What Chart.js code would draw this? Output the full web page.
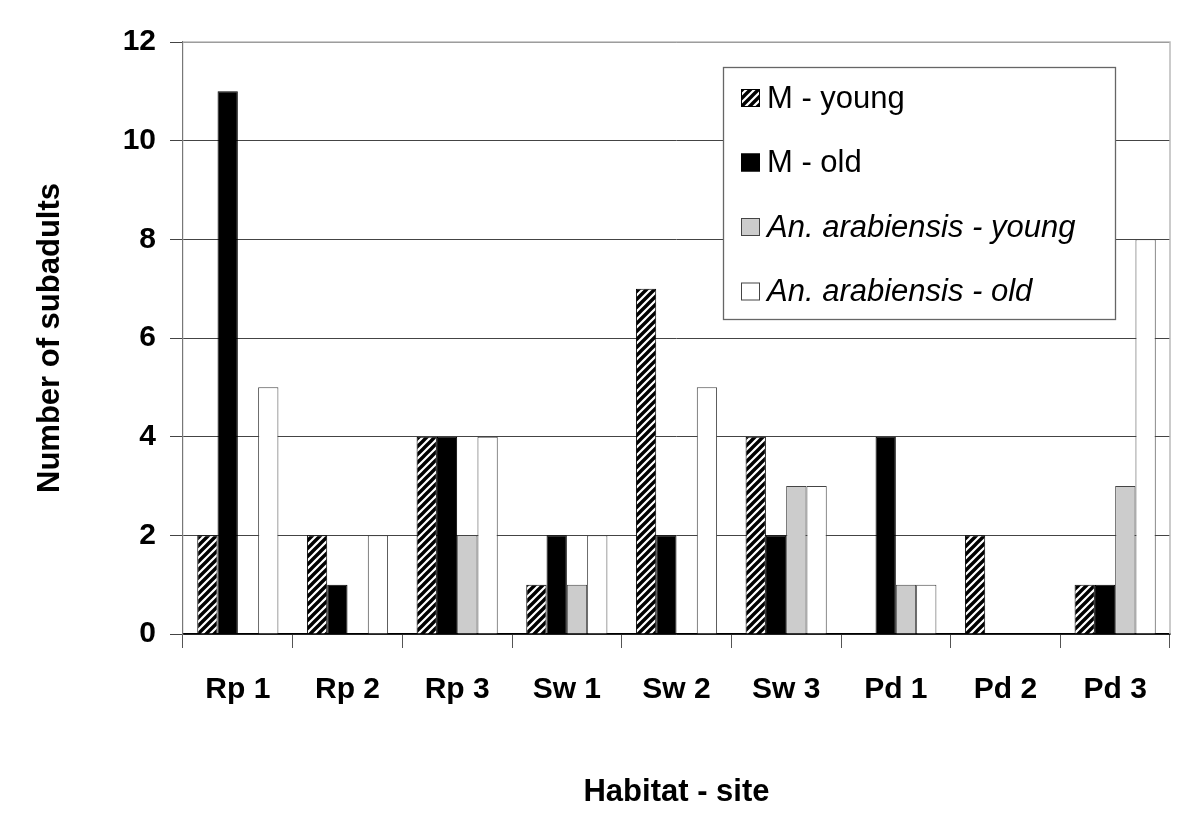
<!DOCTYPE html>
<html>
<head>
<meta charset="utf-8">
<script src="https://cdn.jsdelivr.net/npm/chart.js@4/dist/chart.umd.min.js"></script>
<style>
    html, body { margin: 0; padding: 0; background: #fff; }
    #wrap { width: 1200px; height: 826px; }
</style>
</head>
<body>
<div id="wrap"><canvas id="chart" width="1200" height="826"></canvas></div>
<script>
// data
const sites = ['Rp 1', 'Rp 2', 'Rp 3', 'Sw 1', 'Sw 2', 'Sw 3', 'Pd 1', 'Pd 2', 'Pd 3'];
const mYoung = [2, 2, 4, 1, 7, 4, 0, 2, 1];
const mOld = [11, 1, 4, 2, 2, 2, 4, 0, 1];
const arabYoung = [0, 0, 2, 1, 0, 3, 1, 0, 3];
const arabOld = [5, 2, 4, 2, 5, 3, 1, 0, 8];
const yTicks = [0, 2, 4, 6, 8, 10, 12];

const FONT = 'Liberation Sans, Arial, sans-serif';

// diagonal hatch for "M - young"
function makeHatch() {
    const c = document.createElement('canvas');
    c.width = 8; c.height = 8;
    const g = c.getContext('2d');
    g.fillStyle = '#fff';
    g.fillRect(0, 0, 8, 8);
    g.strokeStyle = '#000';
    g.lineWidth = 3.4;
    g.beginPath();
    g.moveTo(-2, 10); g.lineTo(10, -2);
    g.moveTo(-6, 6); g.lineTo(6, -6);
    g.moveTo(2, 14); g.lineTo(14, 2);
    g.stroke();
    return g.createPattern(c, 'repeat');
}

const ctx = document.getElementById('chart').getContext('2d');
const hatch = makeHatch();

// legend drawn by hand so the species names can be italic
const boxLegend = {
    id: 'boxLegend',
    afterDraw(chart) {
        const c = chart.ctx;
        const x0 = 723, y0 = 67, w = 392, h = 252;
        c.save();
        c.fillStyle = '#fff';
        c.fillRect(x0, y0, w, h);
        c.strokeStyle = '#666';
        c.lineWidth = 1.3;
        c.strokeRect(x0 + 0.5, y0 + 0.5, w, h);
        chart.data.datasets.forEach((ds, i) => {
            const cy = y0 + 31 + i * 64.5;
            const sx = x0 + 18;
            c.fillStyle = ds.backgroundColor;
            c.fillRect(sx, cy - 9, 19, 18);
            c.strokeStyle = ds.borderColor;
            c.lineWidth = 1;
            c.strokeRect(sx + 0.5, cy - 8.5, 18, 17);
            c.fillStyle = '#000';
            c.font = (ds.italic ? 'italic ' : '') + '31px ' + FONT;
            c.textBaseline = 'middle';
            c.textAlign = 'left';
            c.fillText(ds.label, sx + 26, cy + 1);
        });
        c.restore();
    }
};

// light frame on top and right of the plot area
const frame = {
    id: 'frame',
    beforeDatasetsDraw(chart) {
        const a = chart.chartArea, c = chart.ctx;
        c.save();
        c.strokeStyle = '#bbb';
        c.lineWidth = 1.5;
        c.beginPath();
        c.moveTo(a.left, a.top);
        c.lineTo(a.right, a.top);
        c.lineTo(a.right, a.bottom);
        c.stroke();
        c.restore();
    }
};

new Chart(ctx, {
    type: 'bar',
    data: {
        labels: sites,
        datasets: [
            { label: 'M - young', data: mYoung, backgroundColor: hatch, borderColor: '#000', borderWidth: 1 },
            { label: 'M - old', data: mOld, backgroundColor: '#000', borderColor: '#000', borderWidth: 1 },
            { label: 'An. arabiensis - young', italic: true, data: arabYoung, backgroundColor: '#cccccc', borderColor: '#444', borderWidth: 1 },
            { label: 'An. arabiensis - old', italic: true, data: arabOld, backgroundColor: '#fff', borderColor: '#444', borderWidth: 1 }
        ]
    },
    options: {
        responsive: false,
        animation: false,
        layout: { padding: { top: 42, right: 30, left: 0, bottom: 0 } },
        datasets: { bar: { categoryPercentage: 0.74, barPercentage: 1 } },
        plugins: {
            legend: { display: false },
            tooltip: { enabled: false }
        },
        scales: {
            x: {
                afterFit(axis) { axis.height = 192; },
                grid: { drawOnChartArea: false, color: '#555', tickLength: 14, offset: true },
                border: { color: '#000', width: 1.5 },
                ticks: { color: '#000', padding: 24, font: { family: FONT, size: 30, weight: 'bold' } },
                title: {
                    display: true, text: 'Habitat - site', color: '#000',
                    font: { family: FONT, size: 31, weight: 'bold' },
                    padding: { top: 0, bottom: 15 }
                }
            },
            y: {
                min: 0, max: 12,
                afterFit(axis) { axis.width = 183; },
                afterBuildTicks(axis) { axis.ticks = yTicks.map(v => ({ value: v })); },
                grid: { color: '#444', tickLength: 13 },
                border: { color: '#777', width: 1.2 },
                ticks: { color: '#000', padding: 14, font: { family: FONT, size: 30, weight: 'bold' } },
                title: {
                    display: true, text: 'Number of subadults', color: '#000',
                    font: { family: FONT, size: 31, weight: 'bold' },
                    padding: { top: 32, bottom: 0 }
                }
            }
        }
    },
    plugins: [frame, boxLegend]
});
</script>
</body>
</html>
